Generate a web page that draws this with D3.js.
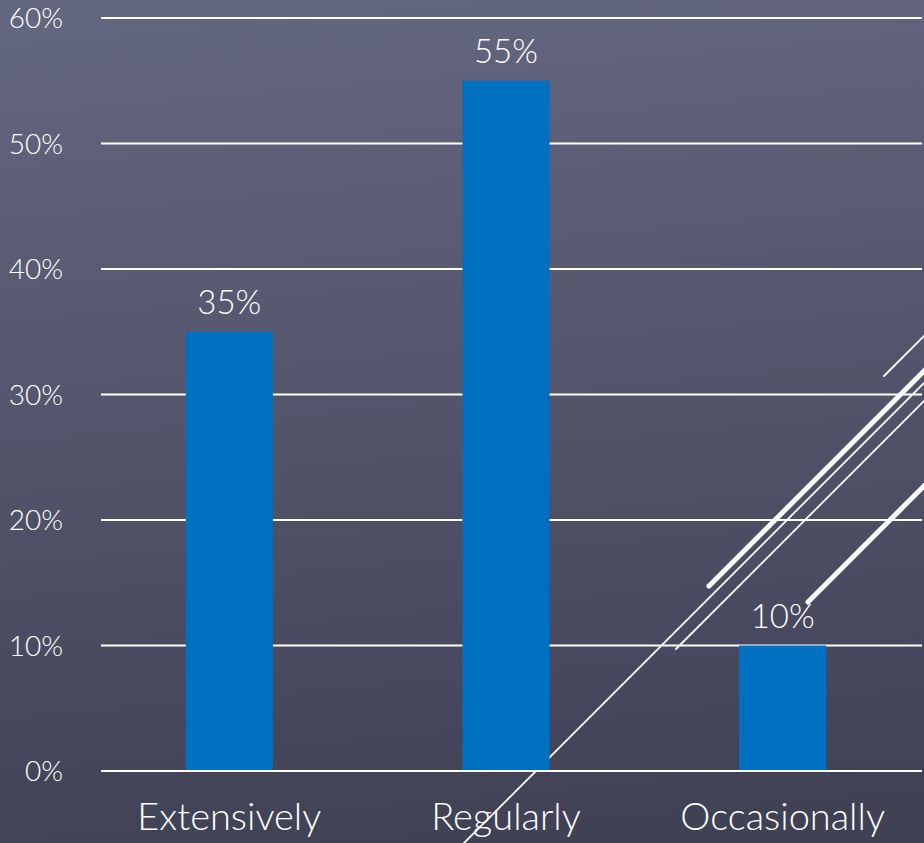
<!DOCTYPE html>
<html>
<head>
<meta charset="utf-8">
<script src="https://cdn.jsdelivr.net/npm/d3@7"></script>
<style>
  html, body { margin: 0; padding: 0; background: #4f5169; }
  svg { display: block; }
  text { font-family: Lato, "Open Sans", sans-serif; font-weight: 300; fill: #ffffff; }
</style>
</head>
<body>
<svg id="chart" width="924" height="843"></svg>
<script>
const categories = ["Extensively", "Regularly", "Occasionally"];
const values = [35, 55, 10];
const tickValues = [0, 10, 20, 30, 40, 50, 60];
const tickLabels = ["0%", "10%", "20%", "30%", "40%", "50%", "60%"];
const valueLabels = ["35%", "55%", "10%"];
// decorative theme strokes: [x1, x2, sum(x+y), width]
const decoLines = [
  [884, 960, 1260, 1.8],
  [709, 960, 1295, 5],
  [440, 960, 1307, 1.8],
  [676, 960, 1325, 1.8],
  [808, 960, 1410, 5]
];

const W = 924, H = 843;
const svg = d3.select("#chart");

const defs = svg.append("defs");
const grad = defs.append("linearGradient").attr("id", "bg")
  .attr("x1", "0.45").attr("y1", "0").attr("x2", "0.55").attr("y2", "1");
grad.append("stop").attr("offset", "0").attr("stop-color", "#63667f");
grad.append("stop").attr("offset", "1").attr("stop-color", "#404155");
svg.append("rect").attr("width", W).attr("height", H).attr("fill", "url(#bg)");

const x = d3.scaleBand().domain(categories).range([91, 921])
  .paddingInner(0.685).paddingOuter(0.3425);
const y = d3.scaleLinear().domain([0, 60]).range([771, 18]);

// decorative lines (behind)
svg.append("g").selectAll("line").data(decoLines).join("line")
  .attr("x1", d => d[0]).attr("y1", d => d[2] - d[0])
  .attr("x2", d => d[1]).attr("y2", d => d[2] - d[1])
  .attr("stroke", "#ffffff").attr("stroke-width", d => d[3])
  .attr("stroke-linecap", "round");

// gridlines
svg.append("g").selectAll("line").data(tickValues).join("line")
  .attr("x1", 101).attr("x2", 922)
  .attr("y1", d => y(d)).attr("y2", d => y(d))
  .attr("stroke", "#ffffff").attr("stroke-width", 2);

// y tick labels
svg.append("g").selectAll("text").data(tickValues).join("text")
  .attr("x", 63).attr("y", d => y(d))
  .attr("text-anchor", "end").attr("dy", "0.36em")
  .attr("font-size", 28)
  .text((d, i) => tickLabels[i]);

// bars
svg.append("g").selectAll("rect").data(values).join("rect")
  .attr("x", (d, i) => x(categories[i]))
  .attr("width", x.bandwidth())
  .attr("y", d => y(d))
  .attr("height", d => y(0) - y(d))
  .attr("fill", "#0070c0");

// baseline redraw over bars
svg.append("line").attr("x1", 101).attr("x2", 922)
  .attr("y1", y(0)).attr("y2", y(0))
  .attr("stroke", "#ffffff").attr("stroke-width", 2);

// value labels
svg.append("g").selectAll("text").data(values).join("text")
  .attr("x", (d, i) => x(categories[i]) + x.bandwidth() / 2)
  .attr("y", d => y(d) - 18)
  .attr("text-anchor", "middle")
  .attr("font-size", 33)
  .text((d, i) => valueLabels[i]);

// category labels
svg.append("g").selectAll("text").data(categories).join("text")
  .attr("x", d => x(d) + x.bandwidth() / 2)
  .attr("y", 830)
  .attr("text-anchor", "middle")
  .attr("font-size", 38)
  .text(d => d);
</script>
</body>
</html>
